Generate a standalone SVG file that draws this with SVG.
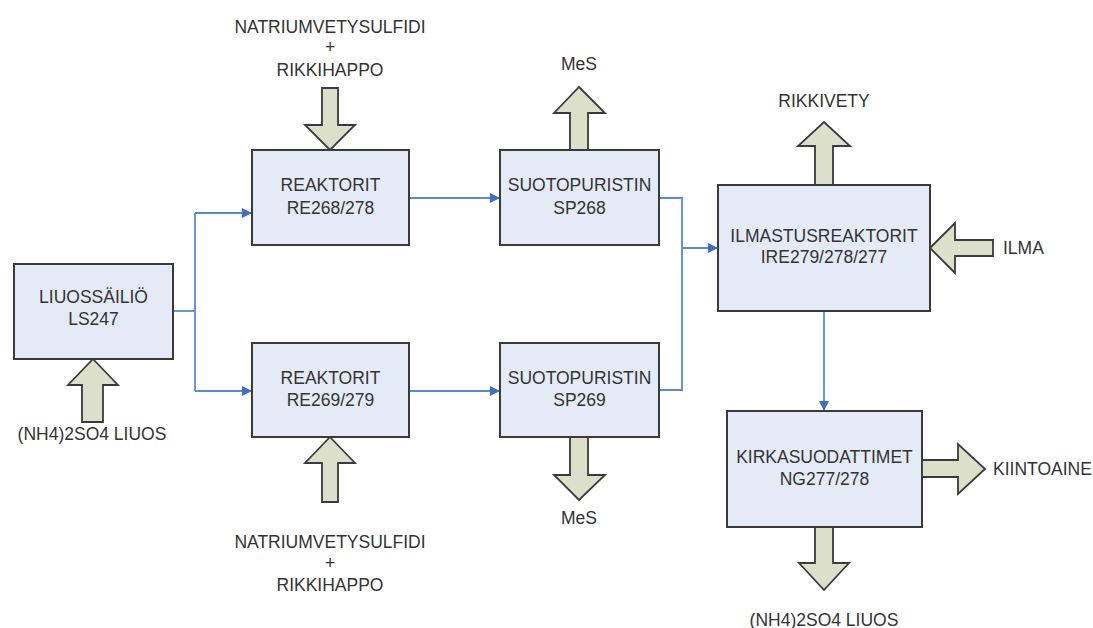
<svg xmlns="http://www.w3.org/2000/svg" width="1093" height="628" viewBox="0 0 1093 628">
  <defs>
    <marker id="arr" viewBox="0 0 10 10" refX="10" refY="5" markerWidth="10" markerHeight="10" markerUnits="userSpaceOnUse" orient="auto">
      <path d="M0,0 L10,5 L0,10 z" fill="#3f6fc2"/>
    </marker>
    <style>
      .box { fill: #e5ebf6; stroke: #3a3a3a; stroke-width: 2; }
      .flow { fill: #dcdfc9; stroke: #3a3a3a; stroke-width: 1.8; stroke-linejoin: miter; }
      .t { font-family: "Liberation Sans", Arial, sans-serif; font-size: 17.5px; fill: #333333; text-anchor: middle; }
      .ts { font-family: "Liberation Sans", Arial, sans-serif; font-size: 17.5px; fill: #333333; text-anchor: start; }
      .line { fill: none; stroke: #5a8ad6; stroke-width: 1.8; }
    </style>
  </defs>
  <rect width="1093" height="628" fill="#ffffff"/>

  <!-- process connectors -->
  <g id="connectors">
    <path class="line" d="M173,311 H195"/>
    <path class="line" d="M195,213 V391"/>
    <path class="line" d="M195,213 H252" marker-end="url(#arr)"/>
    <path class="line" d="M195,391 H252" marker-end="url(#arr)"/>
    <path class="line" d="M409,198 H500" marker-end="url(#arr)"/>
    <path class="line" d="M409,391 H500" marker-end="url(#arr)"/>
    <path class="line" d="M659,198 H682 V390 H659"/>
    <path class="line" d="M682,248 H718" marker-end="url(#arr)"/>
    <path class="line" d="M824,311 V411" marker-end="url(#arr)"/>
  </g>

  <!-- storage tank with ammonium sulfate feed -->
  <g id="ls247">
    <rect class="box" x="14" y="264" width="159" height="95"/>
    <text class="t" x="93.5" y="303">LIUOSSÄILIÖ</text>
    <text class="t" x="93.5" y="325">LS247</text>
    <polygon class="flow" points="93,359 118,385 103,385 103,422 82,422 82,385 68,385"/>
    <text class="t" x="92" y="440">(NH4)2SO4 LIUOS</text>
  </g>

  <!-- upper reactor -->
  <g id="re268">
    <rect class="box" x="252" y="150" width="157" height="95"/>
    <text class="t" x="330.5" y="191">REAKTORIT</text>
    <text class="t" x="330.5" y="214">RE268/278</text>
    <polygon class="flow" points="322,88 338,88 338,125 355,125 330,150 305,125 322,125"/>
    <text class="t" x="330" y="33">NATRIUMVETYSULFIDI</text>
    <text class="t" x="330" y="53">+</text>
    <text class="t" x="330" y="76">RIKKIHAPPO</text>
  </g>

  <!-- lower reactor -->
  <g id="re269">
    <rect class="box" x="252" y="343" width="157" height="94"/>
    <text class="t" x="330.5" y="384">REAKTORIT</text>
    <text class="t" x="330.5" y="406">RE269/279</text>
    <polygon class="flow" points="330,437 355,463 338,463 338,502 322,502 322,463 305,463"/>
    <text class="t" x="330" y="548">NATRIUMVETYSULFIDI</text>
    <text class="t" x="330" y="569">+</text>
    <text class="t" x="330" y="591">RIKKIHAPPO</text>
  </g>

  <!-- upper filter press -->
  <g id="sp268">
    <rect class="box" x="500" y="150" width="159" height="95"/>
    <text class="t" x="579.5" y="191">SUOTOPURISTIN</text>
    <text class="t" x="579.5" y="214">SP268</text>
    <polygon class="flow" points="579,87 605,113 588,113 588,150 570,150 570,113 554,113"/>
    <text class="t" x="579" y="70">MeS</text>
  </g>

  <!-- lower filter press -->
  <g id="sp269">
    <rect class="box" x="500" y="343" width="159" height="94"/>
    <text class="t" x="579.5" y="384">SUOTOPURISTIN</text>
    <text class="t" x="579.5" y="406">SP269</text>
    <polygon class="flow" points="570,437 588,437 588,475 605,475 579,500 554,475 570,475"/>
    <text class="t" x="579" y="524">MeS</text>
  </g>

  <!-- aeration reactors -->
  <g id="ire279">
    <rect class="box" x="718" y="185" width="212" height="126"/>
    <text class="t" x="824" y="242">ILMASTUSREAKTORIT</text>
    <text class="t" x="824" y="263">IRE279/278/277</text>
    <polygon class="flow" points="824,122 850,146 833,146 833,185 815,185 815,146 798,146"/>
    <text class="t" x="824" y="107">RIKKIVETY</text>
    <polygon class="flow" points="930,248 955,223 955,240 993,240 993,256 955,256 955,273"/>
    <text class="ts" x="1003" y="254">ILMA</text>
  </g>

  <!-- clarifying filters -->
  <g id="ng277">
    <rect class="box" x="727" y="411" width="195" height="116"/>
    <text class="t" x="824.5" y="463">KIRKASUODATTIMET</text>
    <text class="t" x="824.5" y="485">NG277/278</text>
    <polygon class="flow" points="922,460 958,460 958,444 985,469 958,494 958,477 922,477"/>
    <text class="ts" x="993" y="475">KIINTOAINE</text>
    <polygon class="flow" points="815,527 833,527 833,563 849,563 824,590 799,563 815,563"/>
    <text class="t" x="824" y="626">(NH4)2SO4 LIUOS</text>
  </g>
</svg>
